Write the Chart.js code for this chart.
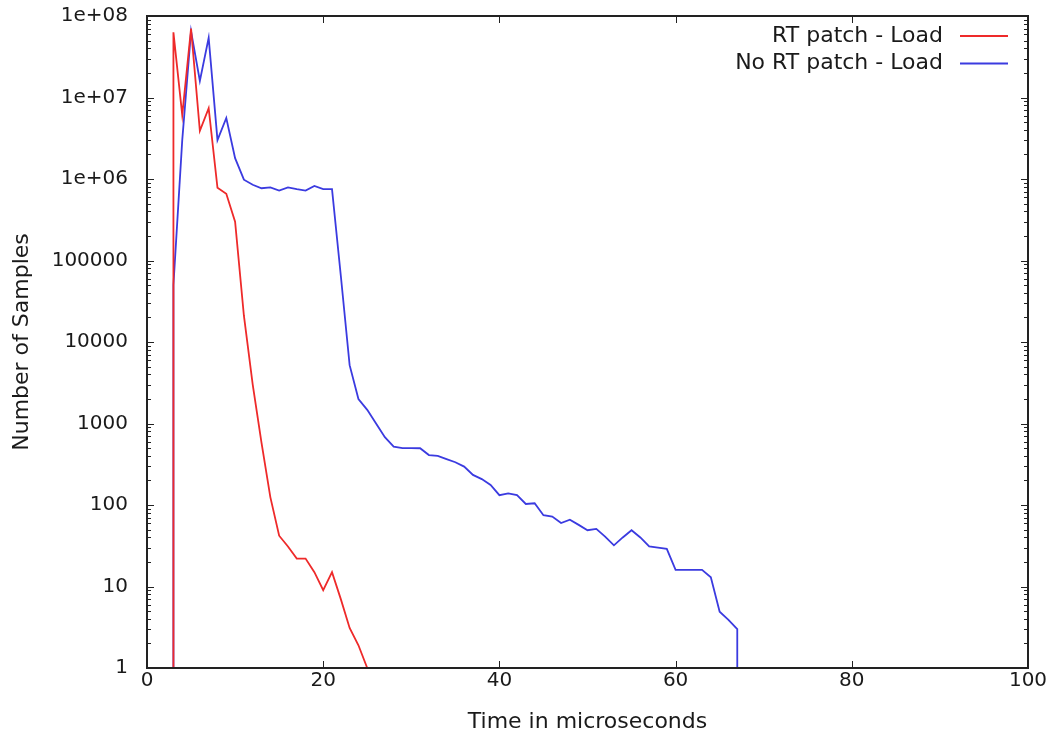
<!DOCTYPE html>
<html>
<head>
<meta charset="utf-8">
<script src="https://cdn.jsdelivr.net/npm/chart.js@4/dist/chart.umd.min.js"></script>
<style>
  body { margin: 0; background: #fff; }
  canvas { display: block; }
</style>
</head>
<body>
<canvas id="chart" width="1054" height="731"></canvas>
<script>
// Valores (tempo em microssegundos, número de amostras)
const rtTime = [3, 3, 4, 5, 6, 7, 8, 9, 10, 11, 12, 13, 14, 15, 16, 17, 18, 19, 20, 21, 22, 23, 24, 25];
const rtSamples = [1, 6.3e7, 6.1e6, 7.0e7, 3.9e6, 7.4e6, 7.8e5, 6.6e5, 3.0e5, 2.1e4, 3000, 580, 125, 42, 31, 22, 22, 15, 9, 15, 7, 3.1, 1.9, 1];

const noRtTime = [3, 3, 4, 5, 6, 7, 8, 9, 10, 11, 12, 13, 14, 15, 16, 17, 18, 19, 20, 21, 22, 23, 24, 25,
  26, 27, 28, 29, 30, 31, 32, 33, 34, 35, 36, 37, 38, 39, 40, 41, 42, 43, 44, 45, 46, 47, 48, 49,
  50, 51, 52, 53, 54, 55, 56, 57, 58, 59, 60, 61, 62, 63, 64, 65, 66, 67, 67];
const noRtSamples = [1, 5e4, 3e6, 6.5e7, 1.6e7, 5.4e7, 3.0e6, 5.6e6, 1.8e6, 9.8e5, 8.5e5, 7.7e5, 7.9e5, 7.2e5, 7.9e5, 7.5e5, 7.2e5, 8.2e5, 7.5e5, 7.5e5, 6.5e4, 5200, 2000, 1470,
  1000, 680, 520, 500, 500, 497, 410, 400, 365, 335, 296, 234, 208, 176, 132, 139, 132, 103, 105, 75, 72, 60, 66, 57,
  49, 51, 41, 32, 40, 49, 40, 31, 30, 29, 16, 16, 16, 16, 13, 4.9, 3.9, 3, 1];

const seriesLabels = ['RT patch - Load', 'No RT patch - Load'];
const xTicks = [0, 20, 40, 60, 80, 100];
const yTickValues = [1, 10, 100, 1000, 10000, 100000, 1e6, 1e7, 1e8];
const yTickLabels = ['1', '10', '100', '1000', '10000', '100000', '1e+06', '1e+07', '1e+08'];

const textColor = '#1a1a1a';

function toPoints(xs, ys) {
  return xs.map(function(x, i){ return {x: x, y: ys[i]}; });
}

// Moldura, marcas internas dos eixos e legenda no estilo gnuplot
const framePlugin = {
  id: 'frame',
  afterDraw(chart) {
    const ctx = chart.ctx;
    const a = chart.chartArea;
    const xs = chart.scales.x, ys = chart.scales.y;
    ctx.save();
    ctx.strokeStyle = '#222';
    ctx.lineWidth = 1;
    ctx.beginPath();
    xTicks.forEach(function(v){
      const px = Math.round(xs.getPixelForValue(v)) + 0.5;
      ctx.moveTo(px, a.bottom); ctx.lineTo(px, a.bottom - 7);
      ctx.moveTo(px, a.top); ctx.lineTo(px, a.top + 7);
    });
    yTickValues.forEach(function(v, i){
      const py = Math.round(ys.getPixelForValue(v)) + 0.5;
      ctx.moveTo(a.left, py); ctx.lineTo(a.left + 7, py);
      ctx.moveTo(a.right, py); ctx.lineTo(a.right - 7, py);
      if (i < yTickValues.length - 1) {
        for (let m = 2; m < 10; m++) {
          const pm = Math.round(ys.getPixelForValue(v * m)) + 0.5;
          ctx.moveTo(a.left, pm); ctx.lineTo(a.left + 4, pm);
          ctx.moveTo(a.right, pm); ctx.lineTo(a.right - 4, pm);
        }
      }
    });
    ctx.stroke();
    ctx.lineWidth = 2;
    ctx.strokeRect(a.left, a.top, a.right - a.left, a.bottom - a.top);

    // legenda: texto alinhado à direita, amostra da linha depois
    ctx.font = '22px "DejaVu Sans"';
    ctx.textAlign = 'right';
    ctx.textBaseline = 'middle';
    chart.data.datasets.forEach(function(ds, i){
      const y = a.top + 20 + i * 27.5;
      ctx.fillStyle = textColor;
      ctx.fillText(ds.label, a.right - 85, y);
      ctx.strokeStyle = ds.borderColor;
      ctx.lineWidth = ds.borderWidth;
      ctx.beginPath();
      ctx.moveTo(a.right - 68, y);
      ctx.lineTo(a.right - 20, y);
      ctx.stroke();
    });
    ctx.restore();
  }
};

new Chart(document.getElementById('chart'), {
  type: 'line',
  data: {
    datasets: [{
      label: seriesLabels[0],
      data: toPoints(rtTime, rtSamples),
      borderColor: '#ee2a2a',
      borderWidth: 1.8,
      pointRadius: 0,
      tension: 0,
      fill: false
    }, {
      label: seriesLabels[1],
      data: toPoints(noRtTime, noRtSamples),
      borderColor: '#3b3be0',
      borderWidth: 1.8,
      pointRadius: 0,
      tension: 0,
      fill: false
    }]
  },
  options: {
    responsive: false,
    animation: false,
    layout: { padding: { left: 0, right: 26, top: 16, bottom: 0 } },
    plugins: { legend: { display: false }, tooltip: { enabled: false } },
    scales: {
      x: {
        type: 'linear',
        min: 0,
        max: 100,
        grid: { display: false },
        border: { display: false },
        afterBuildTicks: function(scale){ scale.ticks = xTicks.map(function(v){ return {value: v}; }); },
        afterFit: function(scale){
          scale.height = 63;
          scale.paddingLeft = 0;
          scale.paddingRight = 0;
        },
        ticks: { color: textColor, padding: -7, font: { family: 'DejaVu Sans', size: 20 }, maxRotation: 0 },
        title: {
          display: true,
          text: 'Time in microseconds',
          color: textColor,
          font: { family: 'DejaVu Sans', size: 22, lineHeight: 0.75 },
          padding: { top: 0, bottom: 0 }
        }
      },
      y: {
        type: 'logarithmic',
        min: 1,
        max: 1e8,
        grid: { display: false },
        border: { display: false },
        afterBuildTicks: function(scale){ scale.ticks = yTickValues.map(function(v){ return {value: v}; }); },
        afterFit: function(scale){
          scale.width = 147;
          scale.paddingTop = 0;
          scale.paddingBottom = 0;
        },
        ticks: {
          color: textColor,
          padding: 11,
          font: { family: 'DejaVu Sans', size: 20 },
          callback: function(value){ return yTickLabels[yTickValues.indexOf(value)]; }
        },
        title: {
          display: true,
          text: 'Number of Samples',
          color: textColor,
          font: { family: 'DejaVu Sans', size: 22, lineHeight: 0.75 },
          padding: { top: 14, bottom: 0 }
        }
      }
    }
  },
  plugins: [framePlugin]
});
</script>
</body>
</html>
